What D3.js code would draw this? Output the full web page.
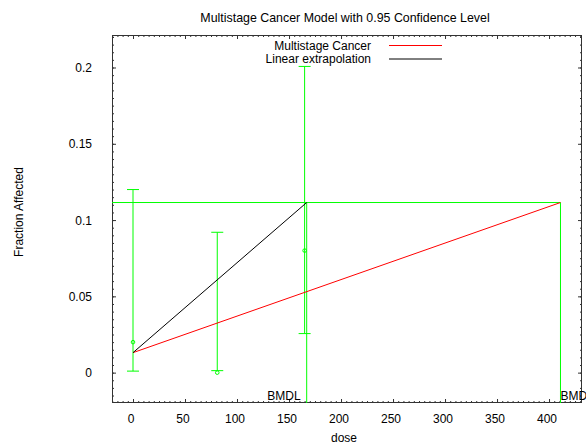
<!DOCTYPE html>
<html>
<head>
<meta charset="utf-8">
<script src="https://cdn.jsdelivr.net/npm/d3@7"></script>
<style>
  body { margin: 0; background: #fff; }
  text { font-family: "Liberation Sans", Arial, sans-serif; font-size: 12px; fill: #000; }
</style>
</head>
<body>
<script>
// observed data: dose, fraction affected, 95% limits
var doses = [0, 81, 165];
var fractions = [0.02, 0.0, 0.08];
var lowerCL = [0.001, 0.0013, 0.0256];
var upperCL = [0.12, 0.092, 0.2007];

// fitted model and extrapolation
var modelDose = [0, 411];
var modelResp = [0.0131, 0.1115];
var linearDose = [0, 167];
var linearResp = [0.0131, 0.1115];

var bmr = 0.1115;
var bmd = 411;
var bmdl = 167;

var xTicks = [0, 50, 100, 150, 200, 250, 300, 350, 400];
var yTicks = [0, 0.05, 0.1, 0.15, 0.2];
var yTickLabels = ["0", "0.05", "0.1", "0.15", "0.2"];

var legendLabels = ["Multistage Cancer", "Linear extrapolation"];
var legendColors = ["#ff0000", "#000000"];

var width = 586, height = 444;
var margin = {top: 35, right: 4, bottom: 41, left: 112};
var green = "#00ff00";

var x = d3.scaleLinear()
  .domain([-20.2, 431.7])
  .range([margin.left, width - margin.right]);

var y = d3.scaleLinear()
  .domain([-0.0199, 0.2213])
  .range([height - margin.bottom, margin.top]);

var svg = d3.select("body")
  .append("svg")
  .attr("width", width)
  .attr("height", height);

var minorX = d3.range(-20, 432, 5);
var minorY = d3.range(-0.015, 0.2213, 0.005);

/* frame ticks on all four sides, pointing inwards */
var sides = [
  [() => d3.axisBottom(x), minorX, xTicks, `translate(0,${height - margin.bottom})`],
  [() => d3.axisTop(x), minorX, xTicks, `translate(0,${margin.top})`],
  [() => d3.axisLeft(y), minorY, yTicks, `translate(${margin.left},0)`],
  [() => d3.axisRight(y), minorY, yTicks, `translate(${width - margin.right},0)`]
];
sides.forEach(function(s) {
  [[s[1], -2], [s[2], -4]].forEach(function(t) {
    svg.append("g")
      .attr("transform", s[3])
      .call(s[0]().tickValues(t[0]).tickSize(t[1]).tickFormat(""))
      .call(g => g.select(".domain").remove())
      .call(g => g.selectAll("line").attr("stroke", "#333"));
  });
});

svg.append("rect")
  .attr("x", margin.left + 0.5)
  .attr("y", margin.top + 0.5)
  .attr("width", width - margin.left - margin.right - 1)
  .attr("height", height - margin.top - margin.bottom - 1)
  .attr("fill", "none")
  .attr("stroke", "#333");

// tick labels
svg.append("g").selectAll("text")
  .data(xTicks)
  .enter().append("text")
  .attr("x", d => x(d) - 2)
  .attr("y", 422.5)
  .attr("text-anchor", "middle")
  .text(d => d);

svg.append("g").selectAll("text")
  .data(yTicks)
  .enter().append("text")
  .attr("x", 92)
  .attr("y", d => y(d) + 4.5)
  .attr("text-anchor", "end")
  .text((d, i) => yTickLabels[i]);

// titles
svg.append("text")
  .attr("x", 345).attr("y", 22)
  .attr("text-anchor", "middle")
  .style("font-size", "12.4px")
  .text("Multistage Cancer Model with 0.95 Confidence Level");
svg.append("text")
  .attr("x", 344).attr("y", 442)
  .attr("text-anchor", "middle")
  .text("dose");
svg.append("text")
  .attr("transform", "translate(23,212) rotate(-90)")
  .attr("text-anchor", "middle")
  .text("Fraction Affected");

// legend
var legend = svg.append("g").selectAll("g")
  .data(legendLabels)
  .enter().append("g")
  .attr("transform", (d, i) => `translate(0,${45 + i * 13.5})`);
legend.append("text")
  .attr("x", 371).attr("y", 4.5)
  .attr("text-anchor", "end")
  .text(d => d);
legend.append("line")
  .attr("x1", 389).attr("x2", 442)
  .attr("y1", 0.5).attr("y2", 0.5)
  .attr("stroke", (d, i) => legendColors[i]);

// BMR / BMD / BMDL guides
var guides = svg.append("g").attr("stroke", green).attr("fill", "none");
guides.append("line")
  .attr("x1", margin.left).attr("x2", x(bmd))
  .attr("y1", y(bmr)).attr("y2", y(bmr));
[bmdl, bmd].forEach(function(v) {
  guides.append("line")
    .attr("x1", x(v)).attr("x2", x(v))
    .attr("y1", y(bmr)).attr("y2", height - margin.bottom);
});
svg.append("text")
  .attr("x", x(bmdl) - 6).attr("y", 399.5)
  .attr("text-anchor", "end")
  .text("BMDL");
svg.append("text")
  .attr("x", x(bmd)).attr("y", 399.5)
  .attr("text-anchor", "start")
  .text("BMD");

// error bars
var bars = svg.append("g").attr("stroke", green).attr("fill", "none");
doses.forEach(function(d, i) {
  var cx = x(d);
  bars.append("line").attr("x1", cx).attr("x2", cx)
    .attr("y1", y(lowerCL[i])).attr("y2", y(upperCL[i]));
  [lowerCL[i], upperCL[i]].forEach(function(v) {
    bars.append("line").attr("x1", cx - 6).attr("x2", cx + 6)
      .attr("y1", y(v)).attr("y2", y(v));
  });
  bars.append("circle").attr("cx", cx).attr("cy", y(fractions[i])).attr("r", 1.8);
});

// model and linear extrapolation
var line = d3.line().x(d => x(d[0])).y(d => y(d[1]));
svg.append("path")
  .datum(d3.zip(modelDose, modelResp))
  .attr("d", line)
  .attr("fill", "none")
  .attr("stroke", "#ff0000");
svg.append("path")
  .datum(d3.zip(linearDose, linearResp))
  .attr("d", line)
  .attr("fill", "none")
  .attr("stroke", "#000");
</script>
</body>
</html>
